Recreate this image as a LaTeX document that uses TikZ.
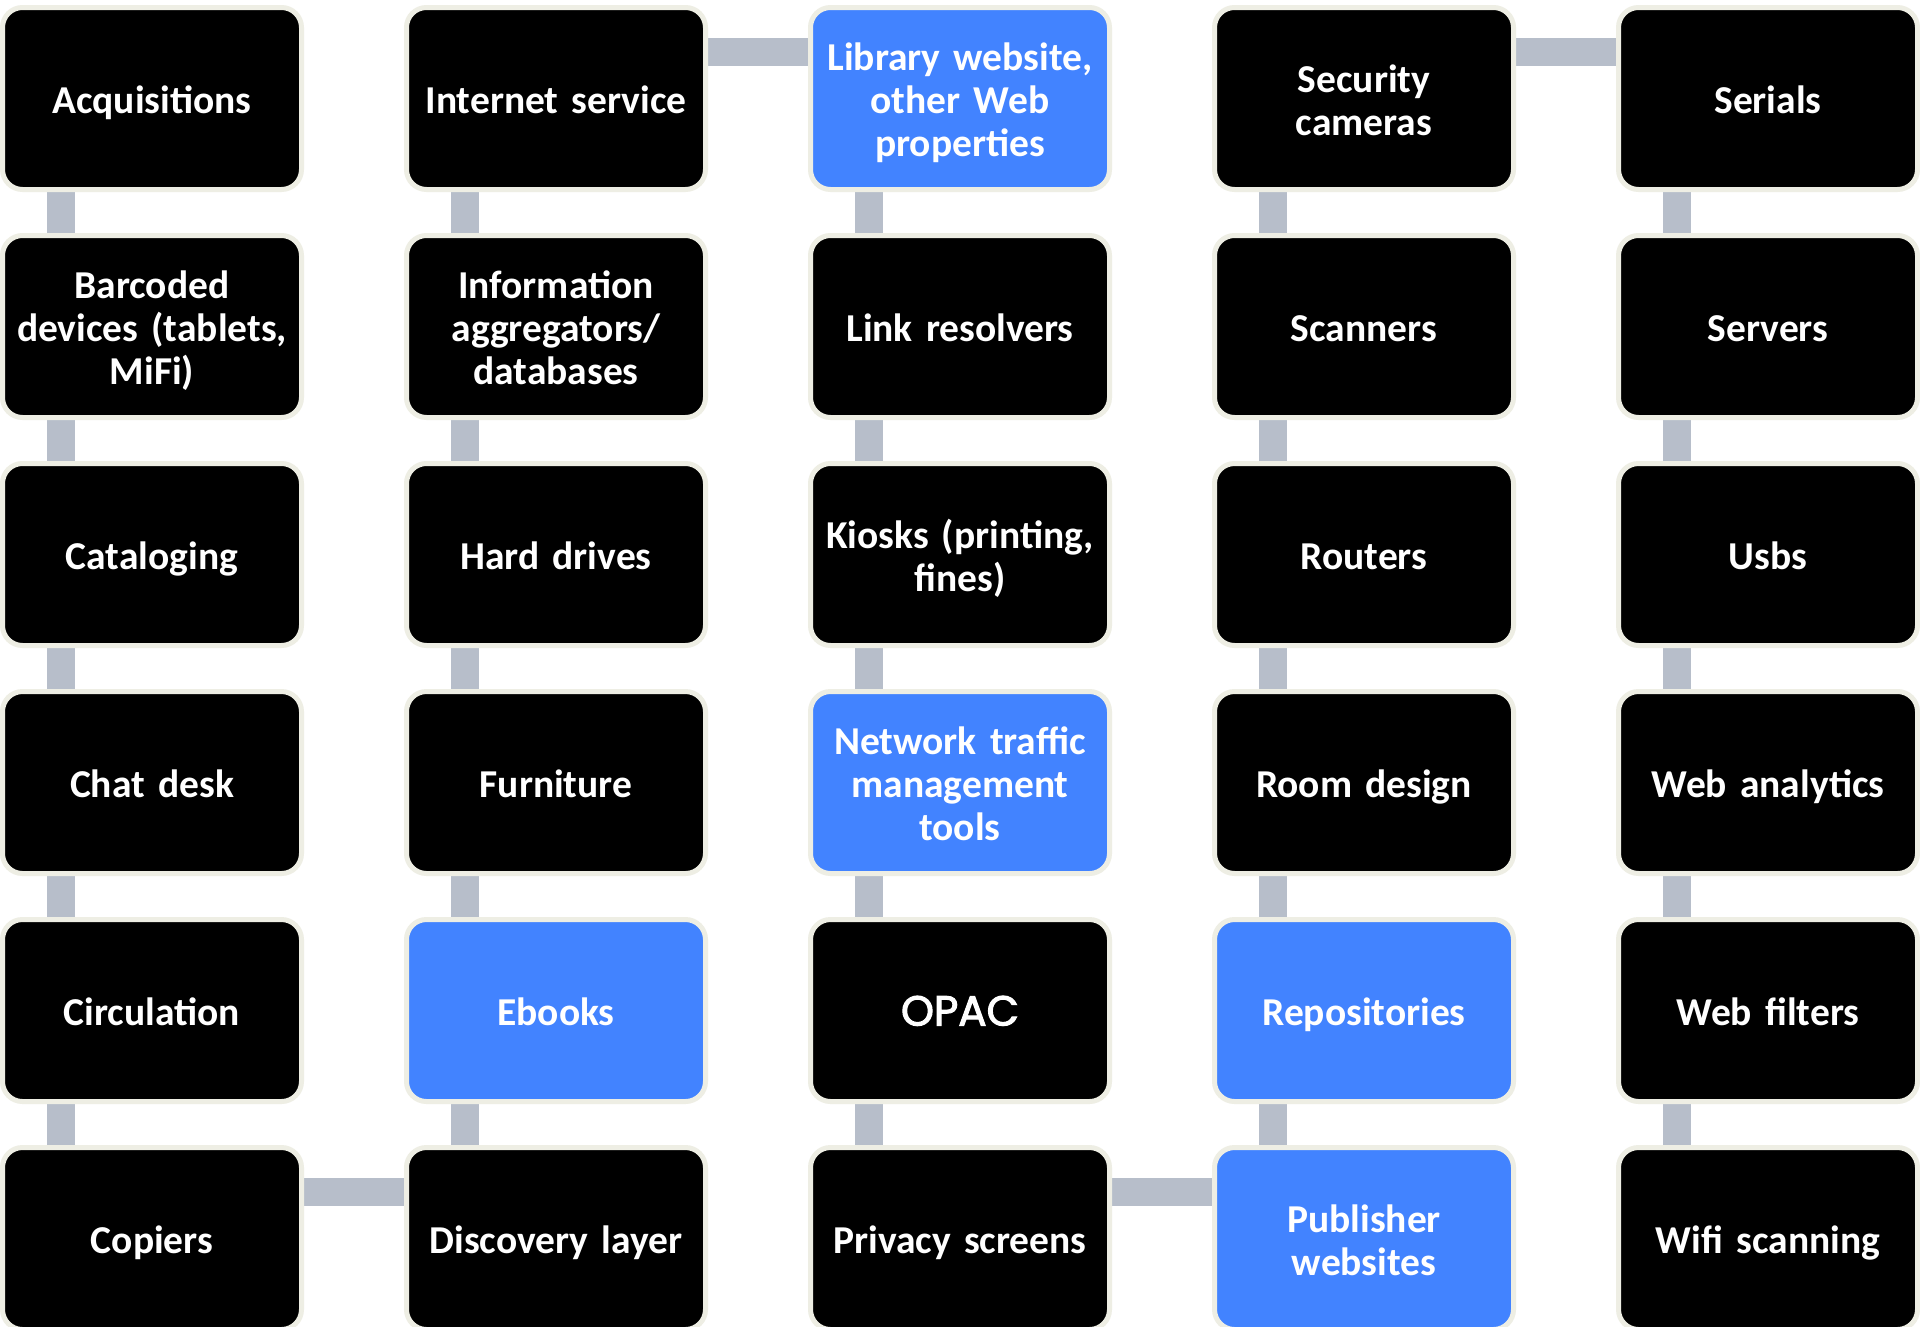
\documentclass[tikz,border=0pt]{standalone}
\usepackage{fontspec}
\setmainfont{Carlito}
\newfontfamily\opacfont[FakeBold=2.5]{Poppins}
\usetikzlibrary{backgrounds}
\definecolor{boxblack}{RGB}{0,0,0}
\definecolor{boxblue}{RGB}{66,131,255}
\definecolor{boxedge}{RGB}{238,238,228}
\definecolor{connbar}{RGB}{183,190,202}
\newcommand\tstrut{\rule{0pt}{42pt}}
\newcommand\bstrut{\rule[-12pt]{0pt}{12pt}}
\tikzset{
  item/.style={draw=boxedge, line width=5pt, fill=boxblack, rounded corners=20pt,
    minimum width=299pt, minimum height=182pt, text width=290pt, align=center,
    inner sep=0pt, text=white, font=\bfseries\fontsize{39.5}{43}\selectfont},
  hl/.style={item, fill=boxblue},
  conn/.style={draw=connbar, line width=28pt},
}
\begin{document}
\begin{tikzpicture}[x=1pt,y=1pt]
\useasboundingbox (0,0) rectangle (1920,-1326);
% columns x: 152, 556, 960, 1364, 1768 ; rows y: -98.5 - 228 j
\node[item] (a1) at (152,-98.5) {\tstrut Acquisitions\bstrut};
\node[item] (a2) at (152,-326.5) {\tstrut Barcoded\\devices (tablets,\\MiFi)\bstrut};
\node[item] (a3) at (152,-554.5) {\tstrut Cataloging\bstrut};
\node[item] (a4) at (152,-782.5) {\tstrut Chat desk\bstrut};
\node[item] (a5) at (152,-1010.5) {\tstrut Circulation\bstrut};
\node[item] (a6) at (152,-1238.5) {\tstrut Copiers\bstrut};
\node[item] (b1) at (556,-98.5) {\tstrut Internet service\bstrut};
\node[item] (b2) at (556,-326.5) {\tstrut Information\\aggregators/\\databases\bstrut};
\node[item] (b3) at (556,-554.5) {\tstrut Hard drives\bstrut};
\node[item] (b4) at (556,-782.5) {\tstrut Furniture\bstrut};
\node[hl] (b5) at (556,-1010.5) {\tstrut Ebooks\bstrut};
\node[item] (b6) at (556,-1238.5) {\tstrut Discovery layer\bstrut};
\node[hl] (c1) at (960,-98.5) {\tstrut Library website,\\other Web\\properties\bstrut};
\node[item] (c2) at (960,-326.5) {\tstrut Link resolvers\bstrut};
\node[item] (c3) at (960,-554.5) {\tstrut Kiosks (printing,\\fines)\bstrut};
\node[hl] (c4) at (960,-782.5) {\tstrut Network traffic\\management\\tools\bstrut};
\node[item, font=\opacfont\fontsize{42}{46}\selectfont] (c5) at (960,-1010.5) {\tstrut OPAC\bstrut};
\node[item] (c6) at (960,-1238.5) {\tstrut Privacy screens\bstrut};
\node[item] (d1) at (1364,-98.5) {\tstrut Security\\cameras\bstrut};
\node[item] (d2) at (1364,-326.5) {\tstrut Scanners\bstrut};
\node[item] (d3) at (1364,-554.5) {\tstrut Routers\bstrut};
\node[item] (d4) at (1364,-782.5) {\tstrut Room design\bstrut};
\node[hl] (d5) at (1364,-1010.5) {\tstrut Repositories\bstrut};
\node[hl] (d6) at (1364,-1238.5) {\tstrut Publisher\\websites\bstrut};
\node[item] (e1) at (1768,-98.5) {\tstrut Serials\bstrut};
\node[item] (e2) at (1768,-326.5) {\tstrut Servers\bstrut};
\node[item] (e3) at (1768,-554.5) {\tstrut Usbs\bstrut};
\node[item] (e4) at (1768,-782.5) {\tstrut Web analytics\bstrut};
\node[item] (e5) at (1768,-1010.5) {\tstrut Web filters\bstrut};
\node[item] (e6) at (1768,-1238.5) {\tstrut Wifi scanning\bstrut};
\begin{scope}[on background layer]
\fill[white] (0,0) rectangle (1920,-1326);
\foreach \c in {a,b,c,d,e}{
  \foreach \r/\s in {1/2,2/3,3/4,4/5,5/6}{
    \draw[conn] ([xshift=-91pt]\c\r.center) -- ([xshift=-91pt]\c\s.center);
  }
}
\draw[conn] ([yshift=46.5pt]a6.center) -- ([yshift=46.5pt]b6.center);
\draw[conn] ([yshift=46.5pt]b1.center) -- ([yshift=46.5pt]c1.center);
\draw[conn] ([yshift=46.5pt]c6.center) -- ([yshift=46.5pt]d6.center);
\draw[conn] ([yshift=46.5pt]d1.center) -- ([yshift=46.5pt]e1.center);
\end{scope}
\end{tikzpicture}
\end{document}
